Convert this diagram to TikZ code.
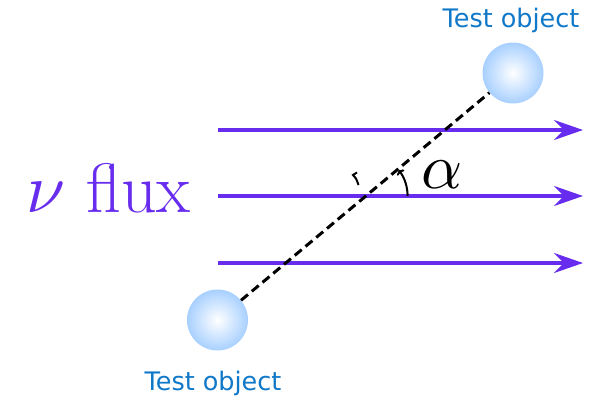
\documentclass[tikz,border=0pt]{standalone}
\usepackage{unicode-math}
\newfontfamily\labfont{DejaVu Sans}
\usetikzlibrary{arrows.meta,calc}
\definecolor{flux}{RGB}{104,44,238}
\definecolor{lab}{RGB}{16,120,200}
\definecolor{ballc}{RGB}{168,208,255}
\tikzset{
  fluxarrow/.style={draw=flux, line width=3.2pt, -{Stealth[length=29pt,width=20pt,inset=10pt]}},
  ball/.style={circle, minimum size=61pt, inner sep=0pt, shading=radial, inner color=white, outer color=ballc},
  objlabel/.style={text=lab, font=\labfont\fontsize{25.5}{30}\selectfont, inner sep=0pt, anchor=base},
  link/.style={draw=black, line width=3pt, dash pattern=on 9pt off 5pt},
}
\begin{document}
\begin{tikzpicture}[x=1pt,y=-1pt]
\useasboundingbox (0,0) rectangle (600,397);
% flux arrows
\coordinate (a1s) at (218,130); \coordinate (a1e) at (583,130);
\coordinate (a2s) at (218,196); \coordinate (a2e) at (583,196);
\coordinate (a3s) at (218,263); \coordinate (a3e) at (583,263);
\draw[fluxarrow] (a1s) -- (a1e);
\draw[fluxarrow] (a2s) -- (a2e);
\draw[fluxarrow] (a3s) -- (a3e);
% balls
\node[ball] (top) at (513,73) {};
\node[ball] (bot) at (217.5,320) {};
\draw[link] (bot) -- (top);
% labels
\node[objlabel] (toplab) at (511,27) {Test object};
\node[objlabel] (botlab) at (213,390) {Test object};
\node[text=flux, font=\fontsize{70}{80}\selectfont, anchor=base east, inner sep=0pt] (nu) at (191,212) {$\nu$ flux};
% angle
\coordinate (c) at (365.6,196);
\draw[line width=2pt, -{To[length=4pt,width=9pt]}] ($(c)+(42,0)$) arc[start angle=0, end angle=-38, radius=42];
\node[font=\fontsize{64}{70}\selectfont, inner sep=0pt, anchor=base west] (alpha) at (421,188) {$\alpha$};
\draw[line width=2pt] (357,172.5) -- (353,175) .. controls (356,178) .. (358.5,185);
\end{tikzpicture}
\end{document}
